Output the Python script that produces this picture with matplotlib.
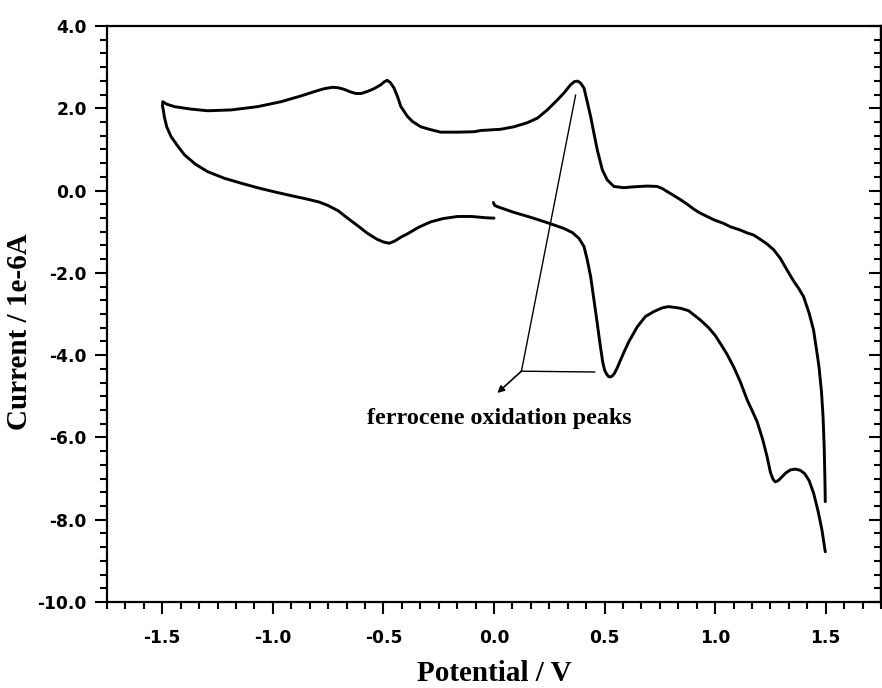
import matplotlib
matplotlib.use("Agg")
import matplotlib.pyplot as plt
from matplotlib.ticker import MultipleLocator, FormatStrFormatter

# ---- data ----
fwd_potential = [-0.003, 0.003, 0.015, 0.090, 0.166, 0.241, 0.316, 0.354, 0.384, 0.407,
                 0.422, 0.437, 0.452, 0.467, 0.479, 0.492, 0.500, 0.509, 0.518, 0.527,
                 0.536, 0.545, 0.558, 0.572, 0.590, 0.610, 0.648, 0.685, 0.723, 0.761,
                 0.790, 0.843, 0.880, 0.934, 0.970, 1.000, 1.024, 1.054, 1.085, 1.114,
                 1.145, 1.170, 1.190, 1.215, 1.235, 1.250, 1.262, 1.272, 1.285, 1.300,
                 1.320, 1.340, 1.363, 1.385, 1.405, 1.425, 1.445, 1.465, 1.483, 1.498]
fwd_current = [-0.29, -0.36, -0.39, -0.53, -0.65, -0.78, -0.92, -1.02, -1.16, -1.36,
               -1.69, -2.09, -2.66, -3.23, -3.71, -4.18, -4.36, -4.46, -4.52, -4.53,
               -4.50, -4.44, -4.30, -4.12, -3.90, -3.67, -3.31, -3.06, -2.94, -2.85,
               -2.82, -2.86, -2.92, -3.15, -3.33, -3.52, -3.72, -3.98, -4.30, -4.65,
               -5.09, -5.38, -5.62, -6.05, -6.47, -6.85, -7.02, -7.08, -7.05, -6.97,
               -6.86, -6.79, -6.77, -6.80, -6.88, -7.05, -7.35, -7.78, -8.25, -8.78]

rev_potential = [1.498, 1.496, 1.493, 1.488, 1.481, 1.470, 1.461, 1.445, 1.425, 1.400,
                 1.378, 1.355, 1.325, 1.295, 1.265, 1.235, 1.200, 1.174, 1.145, 1.114,
                 1.069, 1.039, 0.994, 0.964, 0.933, 0.903, 0.873, 0.843, 0.813, 0.785,
                 0.761, 0.738, 0.693, 0.630, 0.587, 0.542, 0.512,
                 0.490, 0.467, 0.452, 0.437, 0.422, 0.407, 0.392, 0.379, 0.364, 0.346,
                 0.316, 0.286, 0.241, 0.196, 0.151, 0.090, 0.030, -0.060, -0.090, -0.165,
                 -0.241, -0.286, -0.331, -0.369, -0.391, -0.406, -0.421, -0.436, -0.452,
                 -0.468, -0.483, -0.497, -0.512, -0.545, -0.572, -0.600, -0.625, -0.650,
                 -0.677, -0.705, -0.730, -0.765, -0.798, -0.873, -0.963, -1.069, -1.189,
                 -1.295, -1.370, -1.445, -1.480, -1.498,
                 -1.499, -1.495, -1.491, -1.480, -1.460, -1.430, -1.400, -1.350, -1.295,
                 -1.220, -1.144, -1.070, -0.994, -0.920, -0.843, -0.790, -0.752, -0.705,
                 -0.662, -0.615, -0.572, -0.530, -0.500, -0.474, -0.450, -0.420, -0.391,
                 -0.340, -0.286, -0.230, -0.165, -0.100, -0.040, 0.000]
rev_current = [-7.56, -6.90, -6.22, -5.50, -4.90, -4.30, -3.96, -3.39, -2.98, -2.58,
               -2.38, -2.20, -1.93, -1.65, -1.44, -1.30, -1.17, -1.08, -1.03, -0.96,
               -0.88, -0.80, -0.71, -0.63, -0.55, -0.45, -0.33, -0.22, -0.12, -0.03,
               0.05, 0.10, 0.11, 0.09, 0.07, 0.10, 0.26,
               0.50, 0.99, 1.39, 1.80, 2.15, 2.49, 2.61, 2.66, 2.65, 2.57,
               2.37, 2.20, 1.96, 1.76, 1.65, 1.55, 1.49, 1.46, 1.43, 1.42,
               1.42, 1.48, 1.55, 1.68, 1.80, 1.92, 2.04, 2.28, 2.49,
               2.62, 2.68, 2.64, 2.57, 2.47, 2.41, 2.36, 2.36, 2.40,
               2.46, 2.50, 2.51, 2.48, 2.43, 2.30, 2.16, 2.04, 1.96,
               1.94, 1.98, 2.04, 2.10, 2.16,
               2.05, 1.95, 1.80, 1.55, 1.31, 1.08, 0.87, 0.64, 0.46,
               0.30, 0.18, 0.07, -0.03, -0.12, -0.21, -0.28, -0.36, -0.49,
               -0.67, -0.86, -1.04, -1.18, -1.25, -1.28, -1.23, -1.13, -1.05,
               -0.89, -0.76, -0.68, -0.63, -0.63, -0.66, -0.67]

# annotation geometry (data coordinates)
pointer_top = (0.369, 2.32)
pointer_vertex = (0.124, -4.39)
pointer_right = (0.455, -4.41)
arrow_tip = (0.015, -4.92)
note_text = "ferrocene oxidation peaks"
note_pos = (0.023, -5.67)

x_label = "Potential / V"
y_label = "Current / 1e-6A"

# ---- figure ----
fig = plt.figure(figsize=(8.82, 6.88), dpi=100)
ax = fig.add_axes([107 / 882, 86 / 688, 774 / 882, 576 / 688])

line_kw = dict(color="black", lw=2.1, solid_joinstyle="round", solid_capstyle="round")
ax.plot(fwd_potential, fwd_current, **line_kw)
ax.plot(rev_potential, rev_current, **line_kw)

ax.plot([pointer_top[0], pointer_vertex[0]], [pointer_top[1], pointer_vertex[1]],
        color="black", lw=1.0)
ax.plot([pointer_vertex[0], pointer_right[0]], [pointer_vertex[1], pointer_right[1]],
        color="black", lw=1.0)
ax.annotate("", xy=arrow_tip, xytext=pointer_vertex,
            arrowprops=dict(arrowstyle="-|>", color="black", lw=1.2,
                            mutation_scale=10, shrinkA=0, shrinkB=0))
ax.text(note_pos[0], note_pos[1], note_text, ha="center", va="baseline",
        family="Liberation Serif", fontweight="bold", fontsize=17.3)

ax.set_xlim(-1.75, 1.75)
ax.set_ylim(-10, 4)
ax.xaxis.set_major_locator(MultipleLocator(0.5))
ax.xaxis.set_minor_locator(MultipleLocator(0.5 / 6))
ax.yaxis.set_major_locator(MultipleLocator(2.0))
ax.yaxis.set_minor_locator(MultipleLocator(2.0 / 6))
ax.xaxis.set_major_formatter(FormatStrFormatter("%.1f"))
ax.yaxis.set_major_formatter(FormatStrFormatter("%.1f"))

for sp in ax.spines.values():
    sp.set_linewidth(1.6)

ax.tick_params(axis="both", which="major", direction="out", length=8.5, width=1.5,
               labelsize=12.3, top=False, right=False)
ax.tick_params(axis="both", which="minor", direction="out", length=4.8, width=1.5,
               top=False, right=False)
ax.tick_params(axis="x", which="major", pad=11)
ax.tick_params(axis="y", which="major", pad=6)
for lab in ax.get_xticklabels() + ax.get_yticklabels():
    lab.set_fontweight("bold")
    lab.set_family("DejaVu Sans")

# right-side inward ticks
sec = ax.secondary_yaxis("right")
sec.yaxis.set_major_locator(MultipleLocator(2.0))
sec.yaxis.set_minor_locator(MultipleLocator(2.0 / 6))
sec.tick_params(which="major", direction="in", length=8.5, width=1.5, labelright=False)
sec.tick_params(which="minor", direction="in", length=5, width=1.5)
sec.spines["right"].set_linewidth(1.6)

ax.set_xlabel(x_label, family="Liberation Serif", fontweight="bold", fontsize=21)
ax.set_ylabel(y_label, family="Liberation Serif", fontweight="bold", fontsize=21)
ax.xaxis.set_label_coords(0.5, -0.1)
ax.yaxis.set_label_coords(-0.095, 0.47)

fig.savefig("out.png", dpi=100)
